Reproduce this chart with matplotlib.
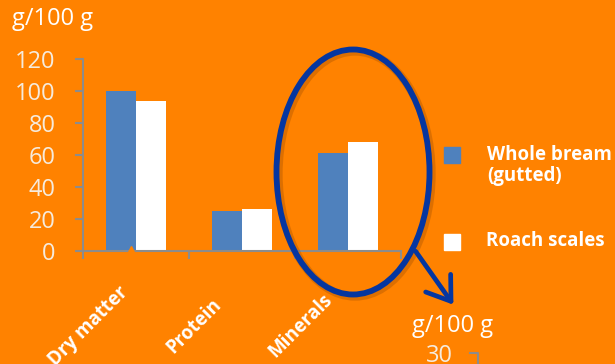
import matplotlib.pyplot as plt
from matplotlib.patches import Ellipse, Rectangle, FancyArrowPatch
from matplotlib.lines import Line2D
from matplotlib.transforms import blended_transform_factory

plt.rcParams['font.family'] = ['Open Sans', 'DejaVu Sans']

# composition, g per 100 g
categories = ["Dry matter", "Protein", "Minerals"]
bream = [100, 25, 61]
roach = [94, 26, 68]
series_names = ["Whole bream\n(gutted)", "Roach scales"]
y_ticks = [0, 20, 40, 60, 80, 100, 120]

BG = "#FF8200"
BLUE = "#4F81BD"
NAVY = "#0536A0"
GRID = "#8C8C8C"
CREAM = "#F6EBDD"

fig = plt.figure(figsize=(6.15, 3.64), dpi=100, facecolor=BG)
ax = fig.add_axes([83 / 615, 1 - 251 / 364, 318 / 615, 192 / 364])
ax.set_facecolor(BG)

w = 0.283
x = list(range(len(categories)))
ax.bar([i - w / 2 for i in x], bream, width=w, color=BLUE, zorder=2)
ax.bar([i + w / 2 for i in x], roach, width=w, color="white", zorder=2)

ax.set_xlim(-0.5, 2.5)
ax.set_ylim(0, 120)
ax.set_yticks(y_ticks)
ax.set_xticks([-0.5, 0.5, 1.5, 2.5])
ax.set_xticklabels([])
ax.tick_params(axis="y", colors=GRID, labelcolor=CREAM, labelsize=17,
               length=5.8, width=1.5, pad=14)
ax.tick_params(axis="x", colors=GRID, length=5.8, width=1.5)

for s in ["top", "right"]:
    ax.spines[s].set_visible(False)
for s in ["left", "bottom"]:
    ax.spines[s].set_color(GRID)
    ax.spines[s].set_linewidth(1.5)

# little notch on the baseline under the first pair
ax.plot([-0.047], [0], marker="^", ms=7, color=BG, mec=BG, zorder=5, clip_on=False)

# rotated category names
trans = blended_transform_factory(ax.transData, ax.transAxes)
for i, name in enumerate(categories):
    ax.text(i - 0.45, -0.39, name, transform=trans, rotation=45,
            ha="center", va="center", rotation_mode="anchor",
            color="white", fontsize=13.5, fontweight="bold")

fig.text(12 / 615, 1 - 7 / 364, "g/100 g", color="white", fontsize=17,
         ha="left", va="top")

# legend
fig.add_artist(Rectangle((444 / 615, 1 - 163 / 364), 16 / 615, 16 / 364,
                         transform=fig.transFigure, color=BLUE))
fig.add_artist(Rectangle((444 / 615, 1 - 250 / 364), 16 / 615, 16 / 364,
                         transform=fig.transFigure, color="white"))
fig.text(487 / 615, 1 - 145 / 364, series_names[0], color="white", fontsize=13.5,
         fontweight="bold", ha="left", va="top", linespacing=1.1)
fig.text(486 / 615, 1 - 231 / 364, series_names[1], color="white", fontsize=13.5,
         fontweight="bold", ha="left", va="top")

# highlight around minerals
shadow = Ellipse((355 / 615, 1 - 174 / 364), 153 / 615, 245 / 364,
                 transform=fig.transFigure, fill=False, ec="#7a3a00",
                 lw=6, alpha=0.25)
fig.add_artist(shadow)
ring = Ellipse((353 / 615, 1 - 172 / 364), 153 / 615, 245 / 364,
               transform=fig.transFigure, fill=False, ec=NAVY, lw=4.2)
fig.add_artist(ring)
arrow = FancyArrowPatch((414 / 615, 1 - 249 / 364), (455 / 615, 1 - 307 / 364),
                        transform=fig.transFigure, color=NAVY, lw=3.4,
                        arrowstyle="->,head_length=0.8,head_width=0.55",
                        mutation_scale=20)
fig.add_artist(arrow)

# start of the next panel below
fig.text(412 / 615, 1 - 314 / 364, "g/100 g", color="white", fontsize=17,
         ha="left", va="top")
fig.text(453 / 615, 1 - 362 / 364, "30", color=CREAM, fontsize=17,
         ha="right", va="baseline")
fig.add_artist(Line2D([470 / 615, 478 / 615, 478 / 615],
                      [1 - 353 / 364, 1 - 353 / 364, 0],
                      transform=fig.transFigure, color=GRID, lw=1.5))

fig.savefig("out.png", dpi=100, facecolor=BG)
